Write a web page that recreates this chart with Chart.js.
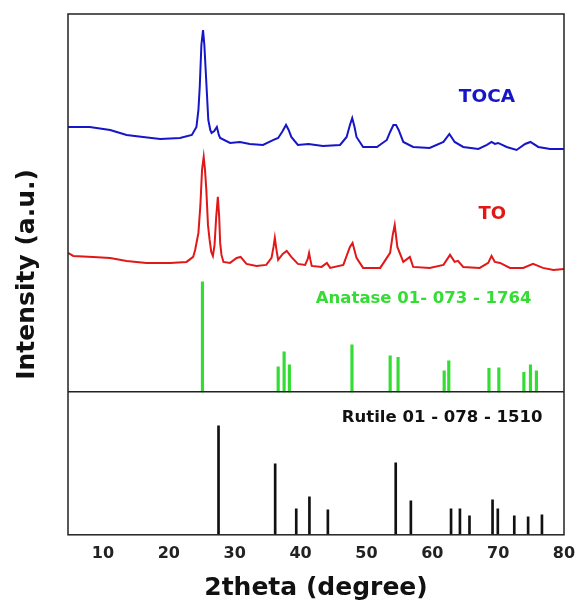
<!DOCTYPE html>
<html>
<head>
<meta charset="utf-8">
<title>XRD patterns</title>
<script src="https://cdn.jsdelivr.net/npm/chart.js@4.4.1/dist/chart.umd.min.js"></script>
<style>
    html, body { margin: 0; padding: 0; background: #fff; }
    #wrap { width: 575px; height: 601px; }
</style>
</head>
<body>
<div id="wrap"><canvas id="xrd"></canvas></div>
<script>
// XRD patterns: TOCA / TO measured curves + anatase & rutile reference cards

const tickValues = [10, 20, 30, 40, 50, 60, 70, 80];
const xMin = 4.7;
const xMax = 80;

// TOCA curve (2theta, intensity a.u.)
const tocaTheta = [4.7, 8.0, 11.1, 13.6, 16.1, 18.7, 21.7, 23.5, 24.2, 24.5, 24.7, 24.95, 25.2, 25.4, 25.6, 25.8, 26.0, 26.3, 26.5, 26.9, 27.3, 27.6, 27.8, 29.3, 30.8, 32.3, 34.3, 35.9, 36.6, 37.2, 37.8, 38.2, 38.6, 39.6, 41.2, 43.4, 46.0, 47.0, 47.5, 47.85, 48.2, 48.5, 49.5, 51.6, 53.1, 53.6, 54.1, 54.5, 54.9, 55.6, 57.1, 59.6, 61.7, 62.6, 63.4, 64.7, 67.0, 68.3, 69.0, 69.5, 70.0, 71.3, 72.8, 74.1, 74.9, 76.1, 77.9, 80];
const tocaIntensity = [408, 408, 405, 400, 398, 396, 397, 400, 408, 425, 448, 490, 505, 490, 465, 440, 415, 405, 402, 404, 408, 400, 397, 392, 393, 391, 390, 395, 397, 403, 410, 405, 398, 390, 391, 389, 390, 398, 410, 417, 408, 398, 388, 388, 395, 403, 410, 410, 405, 393, 388, 387, 393, 401, 393, 388, 386, 390, 393, 391, 392, 388, 385, 391, 393, 388, 386, 386];

// TO curve (2theta, intensity a.u.)
const toTheta = [4.7, 5.5, 8.5, 11.1, 13.6, 16.6, 20.2, 22.7, 23.7, 24.0, 24.5, 24.8, 25.05, 25.3, 25.5, 25.7, 25.95, 26.2, 26.45, 26.7, 26.95, 27.2, 27.45, 27.65, 27.8, 28.0, 28.3, 29.3, 30.3, 30.9, 31.8, 33.3, 34.8, 35.6, 35.9, 36.1, 36.35, 36.6, 37.3, 37.9, 38.6, 39.6, 40.7, 41.1, 41.3, 41.5, 41.7, 43.2, 44.0, 44.5, 46.5, 47.5, 47.9, 48.5, 49.5, 52.1, 53.6, 54.0, 54.3, 54.7, 55.6, 56.6, 57.1, 59.6, 61.7, 62.7, 63.4, 63.9, 64.7, 67.2, 68.5, 69.0, 69.5, 70.3, 71.8, 73.8, 75.3, 76.8, 78.4, 80];
const toIntensity = [282, 279, 278, 277, 274, 272, 272, 273, 278, 285, 302, 330, 365, 378, 365, 345, 310, 295, 283, 279, 290, 318, 338, 318, 292, 280, 273, 272, 277, 278, 271, 269, 270, 277, 288, 297, 285, 275, 281, 284, 278, 271, 270, 276, 282, 275, 269, 268, 272, 267, 270, 288, 292, 277, 267, 267, 282, 300, 310, 288, 273, 278, 268, 267, 270, 280, 273, 274, 268, 267, 272, 279, 273, 272, 267, 267, 271, 267, 265, 266];

// Anatase 01-073-1764 reference lines
const anataseTheta = [25.3, 36.8, 37.7, 38.5, 48.0, 53.8, 55.0, 62.0, 62.7, 68.8, 70.3, 74.1, 75.1, 76.0];
const anataseHeight = [110, 25, 40, 27, 47, 36, 34.5, 21, 31, 23.5, 24, 19.5, 27, 21];

// Rutile 01-078-1510 reference lines
const rutileTheta = [27.4, 36.0, 39.2, 41.2, 44.0, 54.3, 56.6, 62.7, 64.05, 65.5, 69.0, 69.8, 72.3, 74.4, 76.5];
const rutileHeight = [109, 71, 26, 38, 25, 72, 34, 26, 26, 19, 35, 26, 19, 18, 20];

// panel split (intensity level of the divider between the two panels)
const dividerLevel = 143;
const yMax = 521;

const FONT = 'DejaVu Sans';

function toPoints(xs, ys) {
    return xs.map((x, i) => ({ x: x, y: ys[i] }));
}

function toSticks(xs, hs, base) {
    return xs.map((x, i) => ({ x: x, y: [base, base + hs[i]] }));
}

// frame around the plot area
const framePlugin = {
    id: 'frame',
    afterDraw(chart) {
        const { ctx, chartArea: a } = chart;
        ctx.save();
        ctx.strokeStyle = '#222';
        ctx.lineWidth = 1.5;
        ctx.strokeRect(a.left, a.top, a.right - a.left, a.bottom - a.top);
        ctx.restore();
    }
};

// text labels placed in data coordinates
const labelPlugin = {
    id: 'labels',
    afterDatasetsDraw(chart) {
        const { ctx, scales } = chart;
        const items = [
            { text: 'TOCA', x: 68.3, y: 438, color: '#1616c8', size: 18.5 },
            { text: 'TO', x: 69.1, y: 321, color: '#e01818', size: 18 },
            { text: 'Anatase 01- 073 - 1764', x: 58.7, y: 236, color: '#33dd33', size: 16.5 },
            { text: 'Rutile 01 - 078 - 1510', x: 61.5, y: 117, color: '#111', size: 16.5 }
        ];
        ctx.save();
        ctx.textAlign = 'center';
        ctx.textBaseline = 'middle';
        items.forEach(it => {
            ctx.fillStyle = it.color;
            ctx.font = `bold ${it.size}px "${FONT}"`;
            ctx.fillText(it.text, scales.x.getPixelForValue(it.x), scales.y.getPixelForValue(it.y));
        });
        ctx.restore();
    }
};

const ctx = document.getElementById('xrd').getContext('2d');

new Chart(ctx, {
    type: 'line',
    data: {
        datasets: [
            {
                label: 'TOCA',
                data: toPoints(tocaTheta, tocaIntensity),
                borderColor: '#1616c8',
                borderWidth: 2,
                pointRadius: 0,
                tension: 0
            },
            {
                label: 'TO',
                data: toPoints(toTheta, toIntensity),
                borderColor: '#e01818',
                borderWidth: 2,
                pointRadius: 0,
                tension: 0
            },
            {
                label: 'divider',
                data: [{ x: xMin, y: dividerLevel }, { x: xMax, y: dividerLevel }],
                borderColor: '#222',
                borderWidth: 1.5,
                pointRadius: 0
            },
            {
                type: 'bar',
                label: 'Anatase',
                data: toSticks(anataseTheta, anataseHeight, dividerLevel),
                backgroundColor: '#33dd33',
                barThickness: 2.5
            },
            {
                type: 'bar',
                label: 'Rutile',
                data: toSticks(rutileTheta, rutileHeight, 0),
                backgroundColor: '#111',
                barThickness: 2
            }
        ]
    },
    options: {
        responsive: true,
        maintainAspectRatio: false,
        animation: false,
        layout: { padding: { top: 14, right: 11, left: 0, bottom: 0 } },
        plugins: {
            legend: { display: false },
            tooltip: { enabled: false }
        },
        scales: {
            x: {
                type: 'linear',
                min: xMin,
                max: xMax,
                offset: false,
                grid: { display: false, drawTicks: false },
                border: { display: false },
                afterBuildTicks: (scale) => {
                    scale.ticks = tickValues.map(v => ({ value: v }));
                },
                // don't let the last tick label push the plot edge inward
                afterFit: (scale) => {
                    scale.paddingRight = 0;
                },
                ticks: {
                    color: '#222',
                    padding: 9,
                    maxRotation: 0,
                    font: { family: FONT, size: 16, weight: 'bold' }
                },
                title: {
                    display: true,
                    text: '2theta (degree)',
                    color: '#111',
                    padding: { top: 4, bottom: 0 },
                    font: { family: FONT, size: 25, weight: 'bold', lineHeight: 1 }
                }
            },
            y: {
                min: 0,
                max: yMax,
                grid: { display: false, drawTicks: false },
                border: { display: false },
                ticks: { display: false },
                title: {
                    display: true,
                    text: 'Intensity (a.u.)',
                    color: '#111',
                    padding: { top: 12, bottom: 26 },
                    font: { family: FONT, size: 25, weight: 'bold' }
                }
            }
        }
    },
    plugins: [framePlugin, labelPlugin]
});
</script>
</body>
</html>
